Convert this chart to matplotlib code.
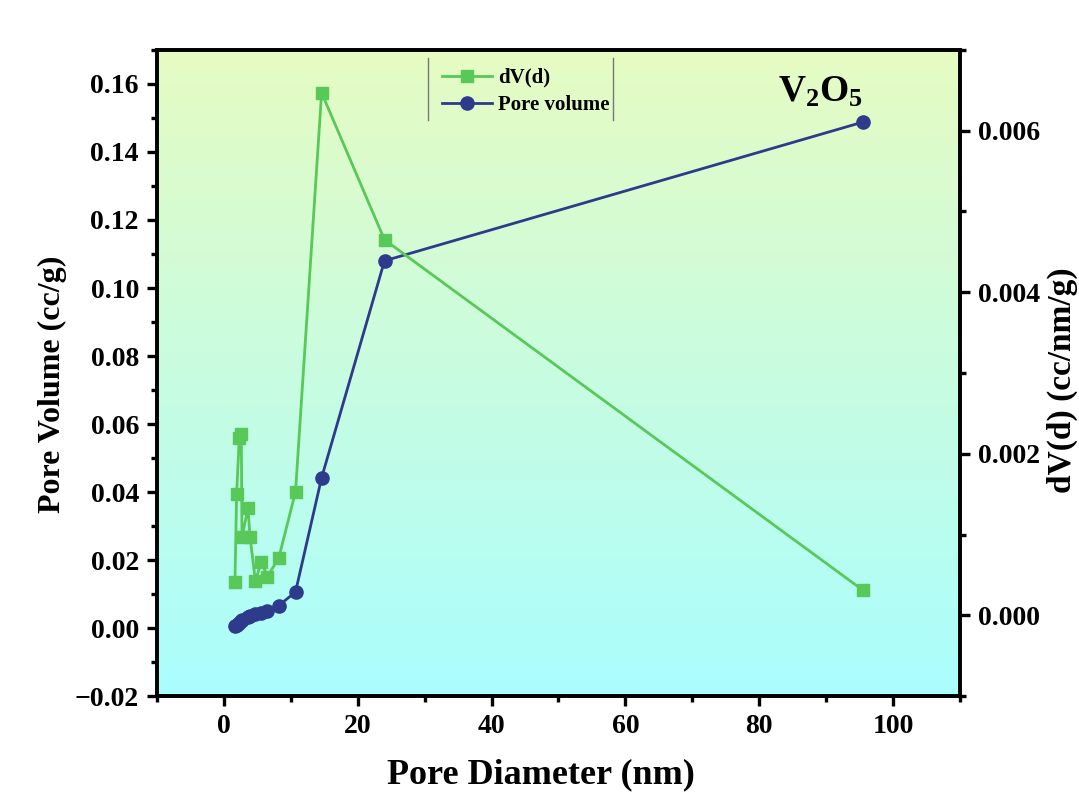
import numpy as np
import matplotlib
matplotlib.use("Agg")
import matplotlib.pyplot as plt
from matplotlib.ticker import MultipleLocator
from matplotlib.colors import LinearSegmentedColormap

# BJH pore size distribution of V2O5
pore_diameter = [1.65, 1.9, 2.3, 2.6, 2.7, 3.6, 3.9, 4.7, 5.6, 6.5, 8.2, 10.7, 14.6, 24.0, 95.5]
pore_volume = [0.0005, 0.0010, 0.0016, 0.0021, 0.0024, 0.0031, 0.0035, 0.0040,
               0.0045, 0.0050, 0.0066, 0.0106, 0.0442, 0.1080, 0.1488]
dv_d = [0.00041, 0.00150, 0.00220, 0.00224, 0.00097, 0.00133, 0.00097, 0.00043,
        0.00066, 0.00048, 0.00071, 0.00153, 0.00647, 0.00465, 0.00031]

plt.rcParams['font.family'] = ['Liberation Serif', 'DejaVu Serif']
plt.rcParams['font.weight'] = 'bold'
plt.rcParams['mathtext.fontset'] = 'custom'
plt.rcParams['mathtext.rm'] = 'Liberation Serif'
plt.rcParams['mathtext.bf'] = 'Liberation Serif:bold'

green = '#58C858'
blue = '#2E3A8C'

fig = plt.figure(figsize=(10.79, 7.96), dpi=100)
ax = fig.add_axes([0.1455, 0.1256, 0.7442, 0.8116])

# vertical gradient background
grad = np.linspace(0, 1, 256).reshape(-1, 1)
cmap = LinearSegmentedColormap.from_list('bg', ['#AAFEFE', '#E6FBC2'])
ax.imshow(grad, extent=[0, 1, 0, 1], transform=ax.transAxes, origin='lower',
          aspect='auto', cmap=cmap, zorder=0)

ax2 = ax.twinx()

l1, = ax.plot(pore_diameter, pore_volume, '-o', color=blue, lw=2,
              ms=9.5, mfc=blue, mec=blue, zorder=3, label='Pore volume')
l2, = ax2.plot(pore_diameter, dv_d, '-s', color=green, lw=2,
               ms=8, mfc=green, mec=green, zorder=3, label='dV(d)')

ax.set_xlim(-10, 110)
ax.set_ylim(-0.02, 0.17)
ax2.set_ylim(-0.001, 0.007)

ax.xaxis.set_major_locator(MultipleLocator(20))
ax.xaxis.set_minor_locator(MultipleLocator(10))
ax.yaxis.set_major_locator(MultipleLocator(0.02))
ax.yaxis.set_minor_locator(MultipleLocator(0.01))
ax2.yaxis.set_major_locator(MultipleLocator(0.002))
ax2.yaxis.set_minor_locator(MultipleLocator(0.001))

ax.yaxis.set_major_formatter(plt.FuncFormatter(lambda v, p: f'{v:.2f}'.replace('-', '\u2212')))
ax2.yaxis.set_major_formatter(plt.FuncFormatter(lambda v, p: f'{v:.3f}'.replace('-', '\u2212')))

for a in (ax, ax2):
    for s in a.spines.values():
        s.set_linewidth(2.6)
    a.tick_params(which='major', direction='out', length=7, width=2.4, labelsize=20, pad=6)
    a.tick_params(which='minor', direction='out', length=4, width=2.4)
ax.tick_params(axis='x', which='both', top=False)

ax.set_ylabel('Pore Volume (cc/g)', fontsize=23, fontweight='bold')
ax.yaxis.set_label_coords(-0.112, 0.483)
fig.text(1062 / 1079, 1 - 380 / 796, 'dV(d) (cc/nm/g)', fontsize=24,
         fontweight='bold', rotation=90, ha='center', va='center')
fig.text(541 / 1079, 1 - 775 / 796, 'Pore Diameter (nm)', fontsize=26,
         fontweight='bold', ha='center', va='center')

ax.text(0.826, 0.935, r'$\mathbf{V_2O_5}$', transform=ax.transAxes, fontsize=27,
        ha='center', va='center', zorder=5)

leg = ax2.legend([l2, l1], ['dV(d)', 'Pore volume'], loc='upper left',
                 bbox_to_anchor=(0.334, 0.998), frameon=False, fontsize=15,
                 handlelength=2.4, handletextpad=0.3, labelspacing=0.35,
                 borderpad=0.3)
for t in leg.get_texts():
    t.set_fontweight('bold')
for x in (0.3375, 0.568):
    ax2.plot([x, x], [0.8916, 0.9876], transform=ax2.transAxes, color='#777777',
             lw=1, zorder=4, clip_on=False)

fig.savefig('out.png', dpi=100, facecolor='white')
